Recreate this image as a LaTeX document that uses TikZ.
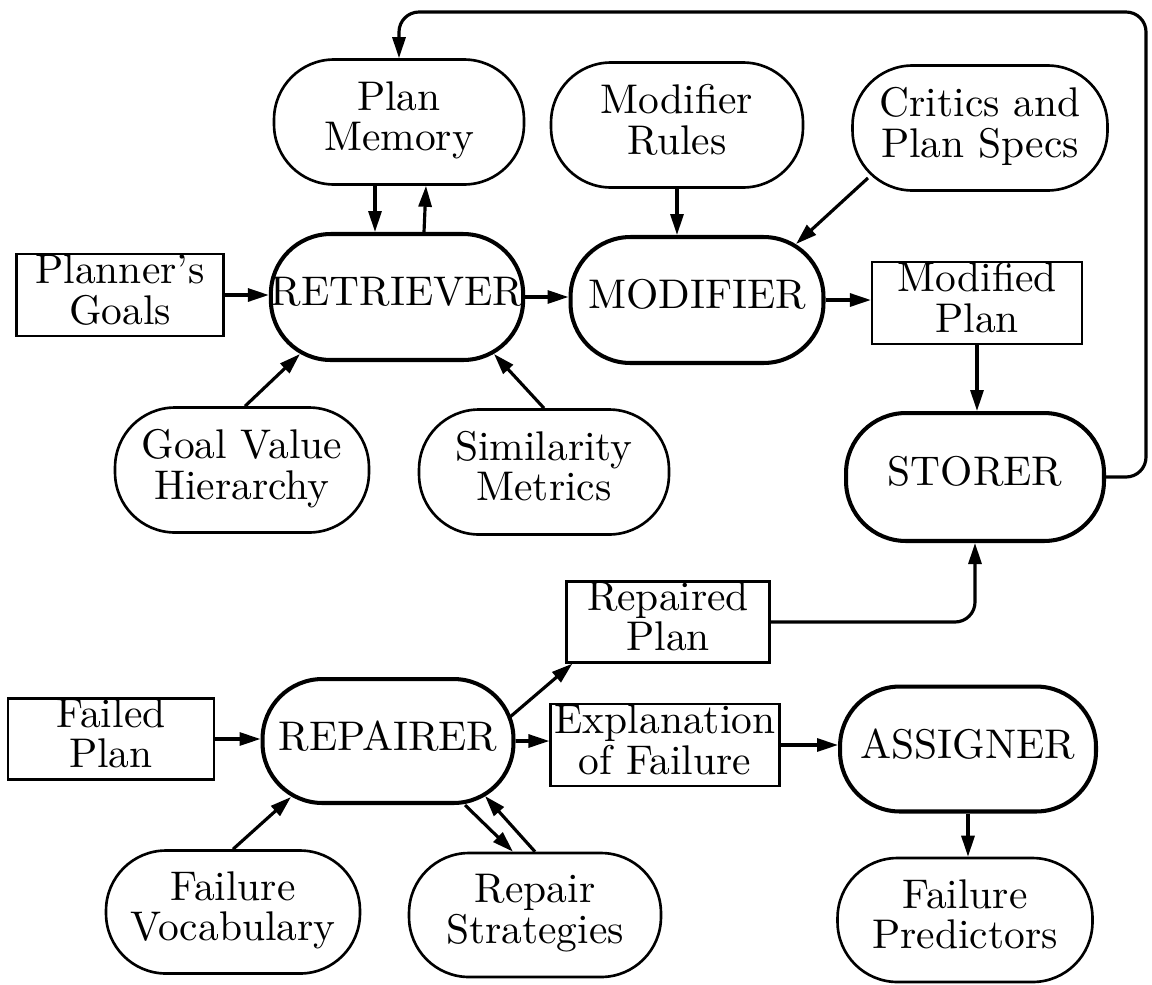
\documentclass[tikz,border=0pt]{standalone}
\usepackage{graphicx}
\usetikzlibrary{arrows.meta,calc}
\newcommand\lbl[1]{\scalebox{2.36}{\fontsize{10}{9.4}\selectfont\begin{tabular}{@{}c@{}}#1\end{tabular}}}
\begin{document}
\begin{tikzpicture}[x=0.02cm,y=-0.02cm,
  every node/.style={align=center, inner sep=0pt},
  thinoval/.style={draw, line width=1.5pt, rounded corners=1.2cm, minimum width=5cm, minimum height=2.5cm},
  thickoval/.style={thinoval, line width=2.3pt},
  box/.style={draw, line width=1.3pt, minimum height=1.53cm},
  arr/.style={line width=1.8pt, -{Triangle[length=0.42cm,width=0.26cm]}},
]
\useasboundingbox (0,0) rectangle (1152,984);

% nodes
\node[thinoval] (pm) at (399,122) {\lbl{Plan\\Memory}};
\node[thinoval, minimum width=5.04cm] (mr) at (677,125) {\lbl{Modifier\\Rules}};
\node[thinoval, minimum width=5.1cm] (cps) at (980,128) {\lbl{Critics and\\Plan Specs}};
\node[box, minimum width=4.14cm] (pg) at (120,295) {\lbl{Planner's\\Goals}};
\node[thickoval, minimum height=2.52cm] (ret) at (397,297) {\lbl{RETRIEVER}};
\node[thickoval, minimum width=5.06cm, minimum height=2.52cm] (mod) at (697,300) {\lbl{MODIFIER}};
\node[box, minimum width=4.2cm] (mp) at (977,303) {\lbl{Modified\\Plan}};
\node[thickoval, minimum width=5.16cm, minimum height=2.56cm] (sto) at (975,477) {\lbl{STORER}};
\node[thinoval, minimum width=5.08cm] (gvh) at (242,470) {\lbl{Goal Value\\Hierarchy}};
\node[thinoval] (sm) at (544,472) {\lbl{Similarity\\Metrics}};
\node[box, minimum width=4.06cm] (rp) at (668,622) {\lbl{Repaired\\Plan}};
\node[box, minimum width=4.12cm] (fp) at (111,739) {\lbl{Failed\\Plan}};
\node[thickoval, minimum width=5.02cm, minimum height=2.48cm] (rep) at (388,741) {\lbl{REPAIRER}};
\node[box, minimum width=4.58cm] (ef) at (665,745) {\lbl{Explanation\\of Failure}};
\node[thickoval, minimum width=5.12cm] (asg) at (968,749) {\lbl{ASSIGNER}};
\node[thinoval, minimum width=5.08cm, minimum height=2.46cm] (fv) at (233,912) {\lbl{Failure\\Vocabulary}};
\node[thinoval, minimum width=5.04cm, minimum height=2.48cm] (rs) at (535,915) {\lbl{Repair\\Strategies}};
\node[thinoval, minimum width=5.1cm, minimum height=2.48cm] (fpr) at (965,920) {\lbl{Failure\\Predictors}};

\coordinate (loopR) at (1146,12);

% connectors
\draw[arr] ($(pm.south)+(-24,0)$) -- ($(ret.north)+(-22,0)$);
\draw[arr] ($(ret.north)+(27,0)$) -- ($(pm.south)+(27,0)$);
\draw[arr] (pg.east) -- (pg.east -| ret.west);
\draw[arr] (ret.east) -- (ret.east -| mod.west);
\draw[arr] (mr.south) -- (mr.south |- mod.north);
\draw[arr] ($(cps)+(-112,50)$) -- ($(mod)+(99,-56)$);
\draw[arr] (mod.east) -- (mod.east -| mp.west);
\draw[arr] (mp.south) -- (mp.south |- sto.north);
\draw[arr] ($(gvh.north)+(3,0)$) -- ($(ret)+(-97,57)$);
\draw[arr] (sm.north) -- ($(ret)+(97,57)$);
\draw[arr, rounded corners=0.4cm] (sto.east) -| (loopR) -| (pm.north);
\draw[arr, rounded corners=0.4cm] (rp.east) -| (sto.south);
\draw[arr] (fp.east) -- (fp.east -| rep.west);
\draw[arr] (rep.east) -- (rep.east -| ef.west);
\draw[arr] (ef.east) -- (ef.east -| asg.west);
\draw[arr] ($(rep)+(122,-24)$) -- ($(rp.south west)+(7,0)$);
\draw[arr] (asg.south) -- (asg.south |- fpr.north);
\draw[arr] (fv.north) -- ($(rep)+(-97,56)$);
\draw[arr] ($(rep.south)+(77,0)$) -- ($(rs.north)+(-22,0)$);
\draw[arr] (rs.north) -- ($(rep)+(97,55)$);
\end{tikzpicture}
\end{document}
